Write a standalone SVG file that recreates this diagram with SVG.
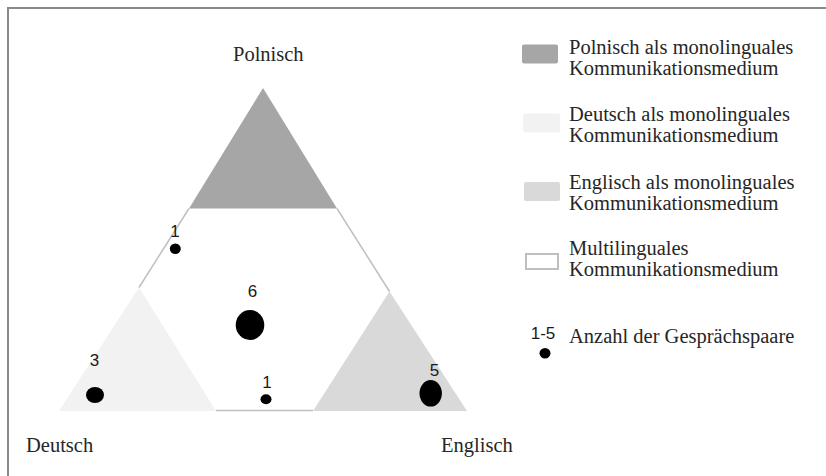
<svg xmlns="http://www.w3.org/2000/svg" width="826" height="476" viewBox="0 0 826 476">
  <style>
    .lbl { font-family: "Liberation Serif", "Times New Roman", serif; font-size: 20.5px; fill: #262626; }
    .num { font-family: "Liberation Sans", Arial, sans-serif; font-size: 17px; fill: #1a1a1a; }
    .edge { stroke: #bfbfbf; stroke-width: 1.5; fill: none; }
    .dot { fill: #000; }
  </style>
  <rect width="826" height="476" fill="#ffffff"/>
  <g id="frame" fill="none" stroke="#8a8a8a" stroke-width="2">
    <path d="M8,476 V8 H826"/>
  </g>

  <g id="triangle-polnisch">
    <polygon points="263,88 189,208.5 337,208.5" fill="#a6a6a6"/>
  </g>
  <g id="triangle-deutsch">
    <polygon points="139,287.5 59,411 216,411" fill="#f2f2f2"/>
  </g>
  <g id="triangle-englisch">
    <polygon points="389.5,291.5 313,411 467,411" fill="#d9d9d9"/>
  </g>
  <g id="connectors">
    <line class="edge" x1="189" y1="208.5" x2="139" y2="287.5"/>
    <line class="edge" x1="337" y1="208.5" x2="389.5" y2="291.5"/>
    <line class="edge" x1="216" y1="410.5" x2="313" y2="410.5"/>
  </g>

  <g id="corner-labels">
    <text class="lbl" x="233" y="61">Polnisch</text>
    <text class="lbl" x="26" y="452">Deutsch</text>
    <text class="lbl" x="441" y="452">Englisch</text>
  </g>

  <g id="data-points">
    <g id="p-top-left">
      <text class="num" x="175" y="237" text-anchor="middle">1</text>
      <ellipse class="dot" cx="175.3" cy="248.7" rx="5.5" ry="5.2"/>
    </g>
    <g id="p-center">
      <text class="num" x="252.5" y="297" text-anchor="middle">6</text>
      <ellipse class="dot" cx="250" cy="325" rx="14.3" ry="15"/>
    </g>
    <g id="p-deutsch">
      <text class="num" x="94.5" y="366" text-anchor="middle">3</text>
      <ellipse class="dot" cx="95" cy="395" rx="9" ry="8"/>
    </g>
    <g id="p-bottom">
      <text class="num" x="267" y="387.5" text-anchor="middle">1</text>
      <ellipse class="dot" cx="266" cy="399.3" rx="5.5" ry="5"/>
    </g>
    <g id="p-englisch">
      <text class="num" x="434.5" y="376" text-anchor="middle">5</text>
      <ellipse class="dot" cx="430.7" cy="393.3" rx="11.2" ry="13.3"/>
    </g>
  </g>

  <g id="legend">
    <g id="legend-polnisch">
      <rect x="522" y="44.5" width="36" height="19" rx="2" fill="#a6a6a6"/>
      <text class="lbl" x="569" y="54">Polnisch als monolinguales</text>
      <text class="lbl" x="569" y="75">Kommunikationsmedium</text>
    </g>
    <g id="legend-deutsch">
      <rect x="523" y="113.5" width="37" height="19" rx="2" fill="#f2f2f2"/>
      <text class="lbl" x="569" y="121">Deutsch als monolinguales</text>
      <text class="lbl" x="569" y="142">Kommunikationsmedium</text>
    </g>
    <g id="legend-englisch">
      <rect x="524" y="182" width="36" height="19" rx="2" fill="#d9d9d9"/>
      <text class="lbl" x="569" y="189">Englisch als monolinguales</text>
      <text class="lbl" x="569" y="210">Kommunikationsmedium</text>
    </g>
    <g id="legend-multi">
      <rect x="526" y="254" width="32" height="15" fill="#ffffff" stroke="#bfbfbf" stroke-width="2"/>
      <text class="lbl" x="569" y="255">Multilinguales</text>
      <text class="lbl" x="569" y="276">Kommunikationsmedium</text>
    </g>
    <g id="legend-count">
      <text class="num" x="543" y="338.5" text-anchor="middle">1-5</text>
      <ellipse class="dot" cx="545" cy="353.3" rx="5.5" ry="5.3"/>
      <text class="lbl" x="569" y="343">Anzahl der Gesprächspaare</text>
    </g>
  </g>
</svg>
